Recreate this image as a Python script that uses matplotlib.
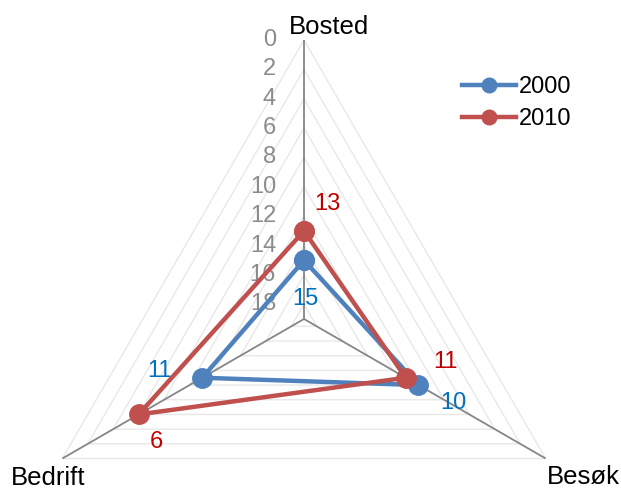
import numpy as np
import matplotlib.pyplot as plt

kategorier = ['Bosted', 'Besøk', 'Bedrift']
verdier_2000 = [15, 10, 11]
verdier_2010 = [13, 11, 6]
serier = ['2000', '2010']
skala = [0, 2, 4, 6, 8, 10, 12, 14, 16, 18]
skala_max = 19

farge_linje = {'2000': '#4F81BD', '2010': '#C0504D'}
farge_tekst = {'2000': '#0070C0', '2010': '#C00000'}

plt.rcParams['font.family'] = ['Liberation Sans', 'DejaVu Sans']

fig = plt.figure(figsize=(6.21, 4.88), dpi=100)
cx, cy, rad = 304 / 621, (488 - 319) / 488, 279
ax = fig.add_axes([cx - rad / 621, cy - rad / 488, 2 * rad / 621, 2 * rad / 488],
                  projection='polar')
ax.set_theta_zero_location('N')
ax.set_theta_direction(-1)
ax.set_ylim(skala_max, 0)
ax.set_axis_off()

vinkler = np.linspace(0, 2 * np.pi, len(kategorier), endpoint=False)
lukket = np.append(vinkler, vinkler[0])

# rutenett (trekanter)
for v in skala:
    ax.plot(lukket, [v] * len(lukket), color='#E8E8E8', lw=1, zorder=1)

# akser
for t in vinkler:
    ax.plot([t, t], [skala_max, 0], color='#868686', lw=1.3, zorder=2)

# skalatekst
for v in skala:
    ax.annotate(str(v), xy=(0, v), xytext=(-28, 0), textcoords='offset pixels',
                ha='right', va='center', fontsize=17, color='#8C8C8C')

# kategorinavn
kat_offset = [(25, 13), (38, -19), (-14, -19)]
for t, navn, off in zip(vinkler, kategorier, kat_offset):
    ax.annotate(navn, xy=(t, 0), xytext=off, textcoords='offset pixels',
                ha='center', va='center', fontsize=18.5, color='black',
                annotation_clip=False)

data = {'2000': verdier_2000, '2010': verdier_2010}
etikett_offset = {
    '2000': [(1, -39), (35, -18), (-43, 7)],
    '2010': [(23, 27), (40, 16), (18, -28)],
}
for s in serier:
    vals = data[s]
    ax.plot(lukket, vals + vals[:1], color=farge_linje[s], lw=3.2, marker='o',
            markersize=14, label=s, zorder=3)
    for t, v, off in zip(vinkler, vals, etikett_offset[s]):
        ax.annotate(str(v), xy=(t, v), xytext=off, textcoords='offset pixels',
                    ha='center', va='center', fontsize=17, color=farge_tekst[s])

fig.legend(loc='upper left', bbox_to_anchor=(450 / 621, 1 - 64 / 488),
           frameon=False, fontsize=17, handlelength=2.3, handletextpad=0.1,
           labelspacing=0.45, borderpad=0, markerscale=0.75)

fig.savefig('out.png', dpi=100)
